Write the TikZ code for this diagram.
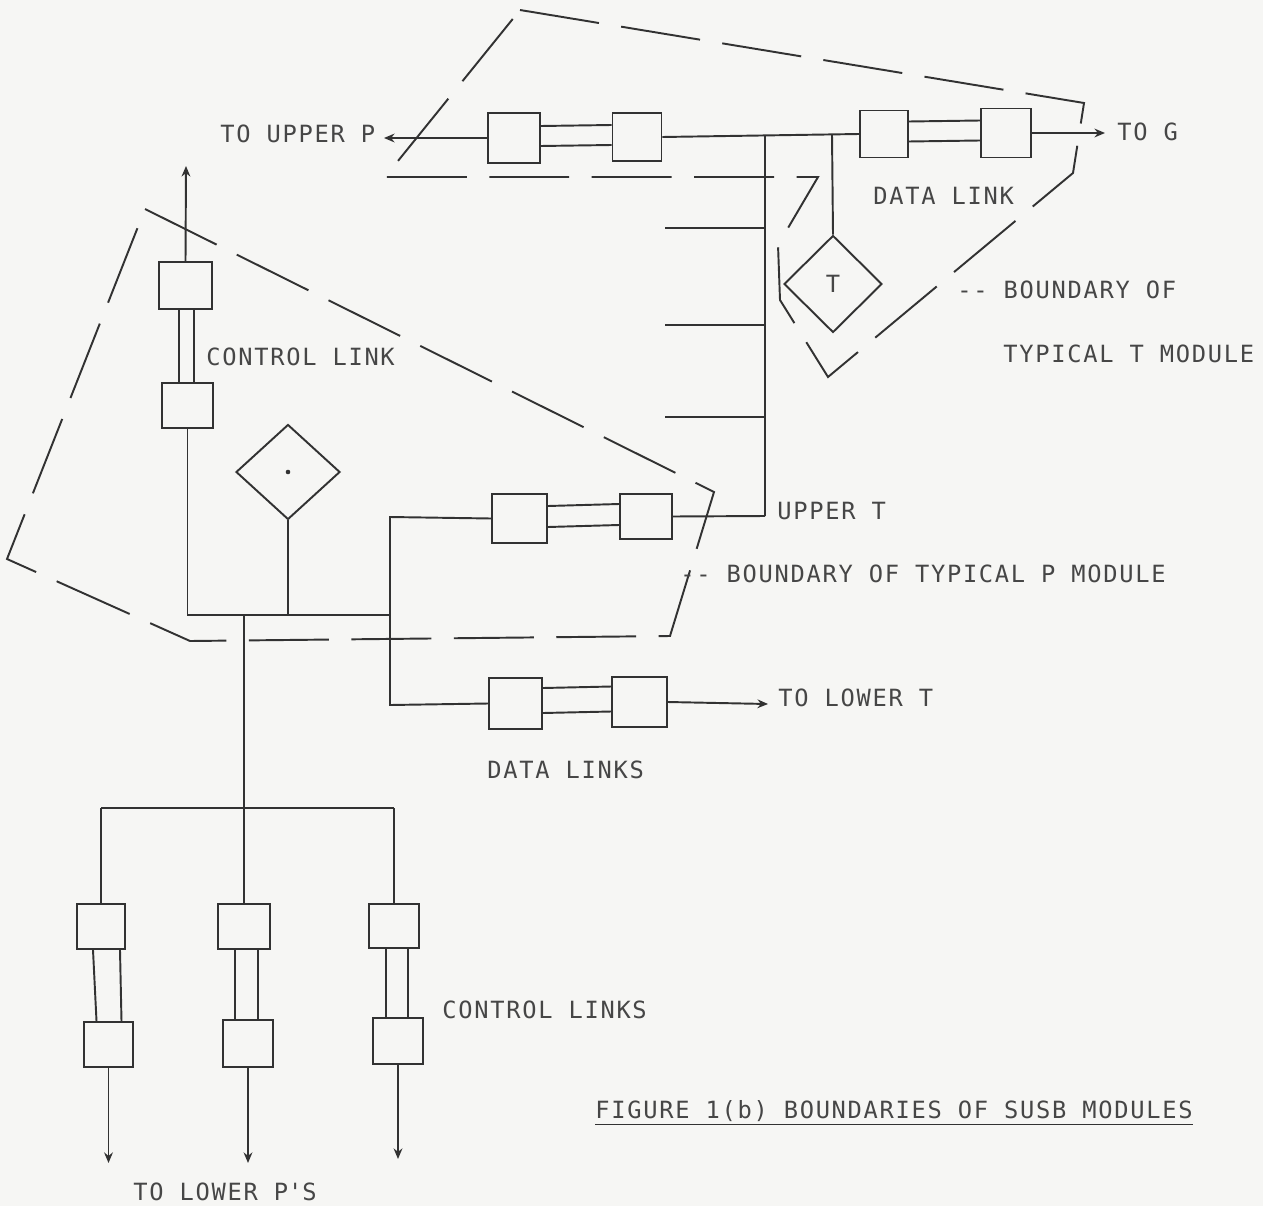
\documentclass[tikz,border=0pt]{standalone}
\usepackage{fontspec}
\newfontfamily\lblfont[LetterSpace=7.2]{DejaVu Sans Mono}
\usetikzlibrary{arrows.meta,shapes.geometric}
\definecolor{ink}{RGB}{50,50,50}
\definecolor{txt}{RGB}{70,70,70}
\definecolor{paper}{RGB}{246,246,244}
\begin{document}
\begin{tikzpicture}[x=0.02cm,y=-0.02cm,
  ln/.style={draw=ink,line width=1.1pt},
  box/.style 2 args={draw=ink,line width=1.1pt,rectangle,inner sep=0pt,minimum width=#1*0.02cm,minimum height=#2*0.02cm},
  dia/.style 2 args={draw=ink,line width=1.1pt,diamond,inner sep=0pt,minimum width=#1*0.02cm,minimum height=#2*0.02cm,text=txt,font=\lblfont\fontsize{13.5}{16}\selectfont},
  bnd/.style={draw=ink,line width=1.1pt,dash pattern=on 1.6cm off 0.45cm},
  lbl/.style={anchor=base west,inner sep=0pt,text=txt,font=\lblfont\fontsize{13.5}{16}\selectfont},
  arr/.style={-{Stealth[length=6pt,width=5pt]}}]
\fill[paper] (0,0) rectangle (1263,1206);
\useasboundingbox (0,0) rectangle (1263,1206);

% ---------- top data line ----------
\node[box={52}{50}] (b1) at (514,138) {};
\node[box={49}{48}] (b2) at (637,137) {};
\node[box={48}{47}] (b3) at (884,134) {};
\node[box={50}{49}] (b4) at (1006,133) {};
\coordinate (tup) at (384,138);
\coordinate (tog) at (1105,133);
\coordinate (jt) at (765,136);
\coordinate (jT) at (832,135);
\coordinate (ut) at (765,516);
\draw[ln,arr] (b1.west) -- (tup);
\draw[ln] ([yshift=0.24cm]b1.east) -- ([yshift=0.24cm]b2.west);
\draw[ln] ([yshift=-0.16cm]b1.east) -- ([yshift=-0.16cm]b2.west);
\draw[ln] (b2.east) -- (b3.west);
\draw[ln] ([yshift=0.25cm]b3.east) -- ([yshift=0.25cm]b4.west);
\draw[ln] ([yshift=-0.15cm]b3.east) -- ([yshift=-0.15cm]b4.west);
\draw[ln,arr] (b4.east) -- (tog);

% trunk to upper T with stubs
\draw[ln] (jt) -- (ut);
\coordinate (s1) at (665,228);
\coordinate (s2) at (665,325);
\coordinate (s3) at (665,417);
\draw[ln] (s1) -- (s1 -| ut);
\draw[ln] (s2) -- (s2 -| ut);
\draw[ln] (s3) -- (s3 -| ut);

% T module
\node[dia={98}{97}] (tm) at (833,284) {T};
\draw[ln] (jT) -- (tm.north);

% T boundary
\draw[bnd] (520,10) -- (1084,103) -- (1073,173) -- (828,377) -- (780,300) -- (778,245) -- (818,177) -- (385,177) -- cycle;

% ---------- P module ----------
\node[box={53}{47}] (c1) at (185.5,285.5) {};
\node[box={51}{45}] (c2) at (187.5,405.5) {};
\coordinate (cup) at (186,166);
\draw[ln,arr] (c1.north) -- (cup);
\draw[ln] ([xshift=-0.13cm]c1.south) -- ([xshift=-0.17cm]c2.north);
\draw[ln] ([xshift=0.17cm]c1.south) -- ([xshift=0.13cm]c2.north);

\node[dia={104}{95}] (pdm) at (288,472) {};
\fill[ink] (pdm.center) circle (1.3pt);

\coordinate (pm) at (244,615);
\coordinate (pr) at (390,615);
\coordinate (ud) at (390,517);
\coordinate (ld) at (390,705);
\draw[ln] (c2.south) -- (c2.south |- pr) -- (pr);
\draw[ln] (pdm.south) -- (pdm.south |- pr);

% data links
\node[box={55}{49}] (d1) at (519.5,518.5) {};
\node[box={52}{45}] (d2) at (646,516.5) {};
\node[box={53}{51}] (e1) at (515.5,703.5) {};
\node[box={55}{50}] (e2) at (639.5,702) {};
\coordinate (tlt) at (768,704);
\draw[ln] (d1.west) -- (ud) -- (ld) -- (e1.west);
\draw[ln] (d2.east) -- (ut);
\draw[ln] ([yshift=0.25cm]d1.east) -- ([yshift=0.25cm]d2.west);
\draw[ln] ([yshift=-0.17cm]d1.east) -- ([yshift=-0.17cm]d2.west);
\draw[ln] ([yshift=0.31cm]e1.east) -- ([yshift=0.31cm]e2.west);
\draw[ln] ([yshift=-0.19cm]e1.east) -- ([yshift=-0.19cm]e2.west);
\draw[ln,arr] (e2.east) -- (tlt);

% P boundary
\draw[bnd] (145,209) -- (714,492) -- (670,636) -- (190,641) -- (7,559) -- cycle;

% ---------- lower control links ----------
\coordinate (bl) at (101,808);
\coordinate (bm) at (244,808);
\coordinate (br) at (394,808);
\draw[ln] (pm) -- (bm);
\draw[ln] (bl) -- (br);
\node[box={48}{45}] (lt1) at (101,926.5) {};
\node[box={49}{45}] (lt2) at (108.5,1044.5) {};
\node[box={52}{45}] (mt1) at (244,926.5) {};
\node[box={50}{47}] (mt2) at (248,1043.5) {};
\node[box={50}{44}] (rt1) at (394,926) {};
\node[box={50}{46}] (rt2) at (398,1041) {};
\draw[ln] (bl) -- (lt1.north);
\draw[ln] (bm) -- (mt1.north);
\draw[ln] (br) -- (rt1.north);
\draw[ln] ([xshift=-0.16cm]lt1.south) -- ([xshift=-0.24cm]lt2.north);
\draw[ln] ([xshift=0.38cm]lt1.south) -- ([xshift=0.26cm]lt2.north);
\draw[ln] ([xshift=-0.18cm]mt1.south) -- ([xshift=-0.26cm]mt2.north);
\draw[ln] ([xshift=0.28cm]mt1.south) -- ([xshift=0.20cm]mt2.north);
\draw[ln] ([xshift=-0.16cm]rt1.south) -- ([xshift=-0.24cm]rt2.north);
\draw[ln] ([xshift=0.28cm]rt1.south) -- ([xshift=0.20cm]rt2.north);
\draw[ln,arr] (lt2.south) -- ++(0,95);
\draw[ln,arr] (mt2.south) -- ++(0,95);
\draw[ln,arr] (rt2.south) -- ++(0,94);

% ---------- labels ----------
\node[lbl] (l1) at (220,143) {TO UPPER P};
\node[lbl] (l2) at (1117,141) {TO G};
\node[lbl] (l3) at (873,204) {DATA LINK};
\node[lbl] (l4) at (957,298) {-{}- BOUNDARY OF};
\node[lbl] (l5) at (1003,362) {TYPICAL T MODULE};
\node[lbl] (l6) at (206,365) {CONTROL LINK};
\node[lbl] (l7) at (777,519) {UPPER T};
\node[lbl] (l8) at (680,582) {-{}- BOUNDARY OF TYPICAL P MODULE};
\node[lbl] (l9) at (778,706) {TO LOWER T};
\node[lbl] (l10) at (487,778) {DATA LINKS};
\node[lbl] (l11) at (442,1018) {CONTROL LINKS};
\node[lbl] (fig) at (595,1118) {FIGURE 1(b) BOUNDARIES OF SUSB MODULES};
\draw[ln] ([yshift=-0.13cm]fig.base west) -- ([yshift=-0.13cm]fig.base east);
\node[lbl] (l12) at (133,1200) {TO LOWER P\textquotesingle S};
\end{tikzpicture}
\end{document}
